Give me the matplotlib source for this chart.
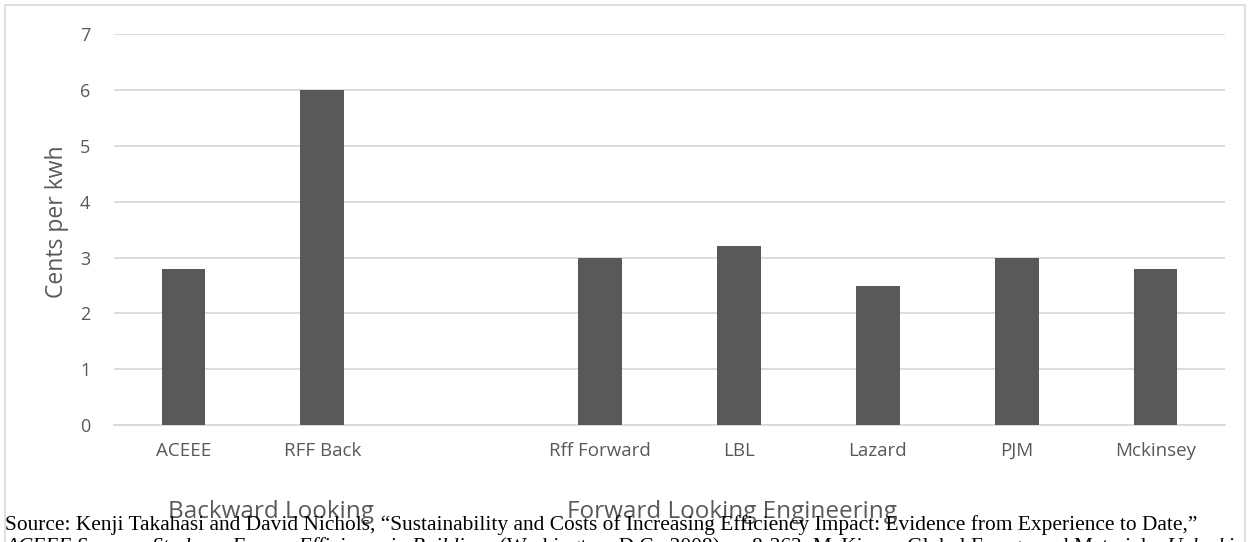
import numpy as np
import matplotlib
matplotlib.use("Agg")
import matplotlib.pyplot as plt
from matplotlib.patches import Rectangle

# chart data
categories = ["ACEEE", "RFF Back", "", "Rff Forward", "LBL", "Lazard", "PJM", "Mckinsey"]
values = [2.8, 6.0, np.nan, 3.0, 3.2, 2.5, 3.0, 2.8]
groups = ["Backward Looking", "Forward Looking Engineering"]
y_ticks = [0, 1, 2, 3, 4, 5, 6, 7]

source_line1 = ("Source: Kenji Takahasi and David Nichols, \u201cSustainability and Costs of Increasing "
                "Efficiency Impact: Evidence from Experience to Date,\u201d")
# second line: (text, italic?)
source_line2 = [
    ("ACEEE Summer Study on Energy Efficiency in Buildings", True),
    (" (Washington, D.C., 2008), p. 8-363; McKinsey Global Energy and Materials, ", False),
    ("Unlocking", True),
]

W, H = 1251, 542
grey = "#595959"
grid = "#d9d9d9"
sans = ["Open Sans", "DejaVu Sans"]

fig = plt.figure(figsize=(W / 100, H / 100), dpi=100)

# outer chart border
fig.patches.append(Rectangle((5 / W, 1 - 545 / H), 1240 / W, 540 / H, transform=fig.transFigure,
                             fill=False, edgecolor=grid, linewidth=1.2))

ax = fig.add_axes([114 / W, 1 - 425.3 / H, (1225 - 114) / W, (425.3 - 34) / H])
x = np.arange(len(categories))
ax.bar(x, values, width=0.315, color=grey, zorder=3)

ax.set_xlim(-0.5, len(categories) - 0.5)
ax.set_ylim(0, 7)
ax.set_yticks(y_ticks)
ax.set_xticks(x)
ax.set_xticklabels(categories, fontfamily=sans, fontsize=13.5, color=grey)
ax.set_yticklabels([str(t) for t in y_ticks], fontfamily=sans, fontsize=13, color=grey)
ax.tick_params(axis="both", length=0)
ax.tick_params(axis="y", pad=17)
ax.tick_params(axis="x", pad=12)
ax.grid(axis="y", color=grid, linewidth=1.3, zorder=0)
for s in ["top", "right", "left"]:
    ax.spines[s].set_visible(False)
ax.spines["bottom"].set_color(grid)
ax.spines["bottom"].set_linewidth(1.3)

fig.text(57 / W, 1 - 222 / H, "Cents per kwh", rotation=90, ha="center", va="center",
         fontfamily=sans, fontsize=16.5, color=grey)

# group labels under the categories
fig.text(271 / W, 1 - 518 / H, groups[0], ha="center", va="baseline",
         fontfamily=sans, fontsize=17.5, color=grey, zorder=1)
fig.text(732 / W, 1 - 518 / H, groups[1], ha="center", va="baseline",
         fontfamily=sans, fontsize=17.5, color=grey, zorder=1)

# source note overlapping the bottom
fig.text(5 / W, 1 - 530 / H, source_line1, ha="left", va="baseline",
         fontfamily="Liberation Serif", fontsize=15.4, color="black", zorder=5)

renderer = fig.canvas.get_renderer()
xpos = 5
for part, italic in source_line2:
    t = fig.text(xpos / W, 1 - 552 / H, part, ha="left", va="baseline",
                 fontfamily="Liberation Serif", fontsize=15.4,
                 style="italic" if italic else "normal", color="black", zorder=5)
    xpos += t.get_window_extent(renderer).width

fig.savefig("out.png", dpi=100)
